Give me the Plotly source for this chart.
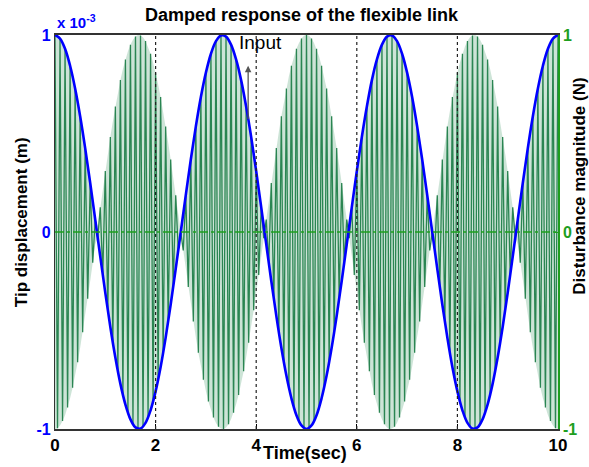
import plotly.graph_objects as go

# Time bases (s)
t_input = [round(0.1 * k, 2) for k in range(101)]
t_resp = [round(0.05 * j, 2) for j in range(201)]

# Input disturbance (N)
input_N = [1.000, 0.982, 0.930, 0.844, 0.729, 0.588, 0.426, 0.249, 0.063, -0.125,
           -0.309, -0.482, -0.637, -0.771, -0.876, -0.951, -0.992, -0.998, -0.969, -0.905,
           -0.809, -0.685, -0.536, -0.368, -0.187, 0.000, 0.187, 0.368, 0.536, 0.685,
           0.809, 0.905, 0.969, 0.998, 0.992, 0.951, 0.876, 0.771, 0.637, 0.482,
           0.309, 0.125, -0.063, -0.249, -0.426, -0.588, -0.729, -0.844, -0.930, -0.982,
           -1.000, -0.982, -0.930, -0.844, -0.729, -0.588, -0.426, -0.249, -0.063, 0.125,
           0.309, 0.482, 0.637, 0.771, 0.876, 0.951, 0.992, 0.998, 0.969, 0.905,
           0.809, 0.685, 0.536, 0.368, 0.187, 0.000, -0.187, -0.368, -0.536, -0.685,
           -0.809, -0.905, -0.969, -0.998, -0.992, -0.951, -0.876, -0.771, -0.637, -0.482,
           -0.309, -0.125, 0.063, 0.249, 0.426, 0.588, 0.729, 0.844, 0.930, 0.982,
           1.000]

# Tip displacement (x 1e-3 m), read from the green oscillation peaks
tip_disp = [1.000, -0.996, 0.982, -0.960, 0.930, -0.891, 0.844, -0.790, 0.729, -0.661,
            0.588, -0.509, 0.426, -0.339, 0.249, -0.156, 0.063, -0.031, 0.125, -0.218,
            0.309, -0.397, 0.482, -0.562, 0.637, -0.707, 0.771, -0.827, 0.876, -0.918,
            0.951, -0.976, 0.992, -1.000, 0.998, -0.988, 0.969, -0.941, 0.905, -0.861,
            0.809, -0.750, 0.685, -0.613, 0.536, -0.454, 0.368, -0.279, 0.187, -0.094,
            0.000, -0.094, 0.187, -0.279, 0.368, -0.454, 0.536, -0.613, 0.685, -0.750,
            0.809, -0.861, 0.905, -0.941, 0.969, -0.988, 0.998, -1.000, 0.992, -0.976,
            0.951, -0.918, 0.876, -0.827, 0.771, -0.707, 0.637, -0.562, 0.482, -0.397,
            0.309, -0.218, 0.125, -0.031, 0.063, -0.156, 0.249, -0.339, 0.426, -0.509,
            0.588, -0.661, 0.729, -0.790, 0.844, -0.891, 0.930, -0.960, 0.982, -0.996,
            1.000, -0.996, 0.982, -0.960, 0.930, -0.891, 0.844, -0.790, 0.729, -0.661,
            0.588, -0.509, 0.426, -0.339, 0.249, -0.156, 0.063, -0.031, 0.125, -0.218,
            0.309, -0.397, 0.482, -0.562, 0.637, -0.707, 0.771, -0.827, 0.876, -0.918,
            0.951, -0.976, 0.992, -1.000, 0.998, -0.988, 0.969, -0.941, 0.905, -0.861,
            0.809, -0.750, 0.685, -0.613, 0.536, -0.454, 0.368, -0.279, 0.187, -0.094,
            0.000, -0.094, 0.187, -0.279, 0.368, -0.454, 0.536, -0.613, 0.685, -0.750,
            0.809, -0.861, 0.905, -0.941, 0.969, -0.988, 0.998, -1.000, 0.992, -0.976,
            0.951, -0.918, 0.876, -0.827, 0.771, -0.707, 0.637, -0.562, 0.482, -0.397,
            0.309, -0.218, 0.125, -0.031, 0.063, -0.156, 0.249, -0.339, 0.426, -0.509,
            0.588, -0.661, 0.729, -0.790, 0.844, -0.891, 0.930, -0.960, 0.982, -0.996,
            1.000]

x_ticks = [0, 2, 4, 6, 8, 10]
y_ticks = [-1, 0, 1]

FONT = "Liberation Sans"
BLUE = "#0000FF"
GREEN = "#1E9E1E"
DGREEN = "#2A8552"
LGREEN = "rgba(60,150,100,0.26)"

# envelope band of the dense oscillation (light green shading seen in the reference)
env_up = [abs(v) for v in tip_disp]
env_lo = [-abs(v) for v in tip_disp]

fig = go.Figure()
fig.add_trace(go.Scatter(x=t_resp, y=env_lo, mode="lines", line=dict(width=0),
                         yaxis="y", showlegend=False, hoverinfo="skip"))
fig.add_trace(go.Scatter(x=t_resp, y=env_up, mode="lines", line=dict(width=0),
                         fill="tonexty", fillcolor=LGREEN, yaxis="y",
                         showlegend=False, hoverinfo="skip"))
fig.add_trace(go.Scatter(x=t_resp, y=tip_disp, mode="lines",
                         line=dict(color=DGREEN, width=1.3), yaxis="y",
                         showlegend=False))
fig.add_trace(go.Scatter(x=t_input, y=input_N, mode="lines",
                         line=dict(color=BLUE, width=2.6, shape="spline"),
                         yaxis="y2", showlegend=False))

shapes = []
for xv in x_ticks[1:-1]:
    shapes.append(dict(type="line", xref="x", yref="paper", x0=xv, x1=xv, y0=0, y1=1,
                       line=dict(color="#222222", width=1.2, dash="dot"), layer="above"))
shapes.append(dict(type="line", xref="paper", yref="y", x0=0, x1=1, y0=0, y1=0,
                   line=dict(color=GREEN, width=1.3, dash="dashdot"), layer="above"))
fig.update_layout(shapes=shapes)

fig.update_layout(
    width=589, height=467,
    margin=dict(l=55, r=31, t=35, b=34),
    paper_bgcolor="white", plot_bgcolor="white",
    font=dict(family=FONT, size=14, color="black"),
    xaxis=dict(range=[0, 10], tickvals=x_ticks, ticktext=[str(v) for v in x_ticks],
               showgrid=False, zeroline=False, showline=True, linecolor="#333333",
               linewidth=1.5, mirror=True, ticks="inside", ticklen=5, tickcolor="black",
               tickfont=dict(family=FONT, size=17, color="black", weight="bold")),
    yaxis=dict(range=[-1, 1], tickvals=y_ticks, ticktext=["-1", "0", "1"],
               showgrid=False, zeroline=False, showline=True, linecolor="#333333",
               linewidth=1.2, ticks="",
               tickfont=dict(family=FONT, size=16, color=BLUE, weight="bold")),
    yaxis2=dict(range=[-1, 1], tickvals=y_ticks, ticktext=["-1", "0", "1"],
                overlaying="y", side="right", showgrid=False, zeroline=False,
                showline=True, linecolor=GREEN, linewidth=1.5, ticks="inside",
                ticklen=4, tickcolor=GREEN,
                tickfont=dict(family=FONT, size=16, color=GREEN, weight="bold")),
)

ann = []
ann.append(dict(text="<b>Damped response of the flexible link</b>", xref="paper", yref="paper",
                x=0.492, y=1.05, showarrow=False, font=dict(family=FONT, size=18, color="black"),
                xanchor="center", yanchor="middle"))
ann.append(dict(text="<b>x 10<sup>-3</sup></b>", xref="paper", yref="paper",
                x=0.0, y=1.035, showarrow=False, font=dict(family=FONT, size=15, color=BLUE),
                xanchor="left", yanchor="middle"))
ann.append(dict(text="<b>Tip displacement (m)</b>", xref="paper", yref="paper",
                x=-0.0676, y=0.525, showarrow=False, textangle=-90,
                font=dict(family=FONT, size=17, color="black"), xanchor="center", yanchor="middle"))
ann.append(dict(text="<b>Disturbance magnitude (N)</b>", xref="paper", yref="paper",
                x=1.0425, y=0.616, showarrow=False, textangle=-90,
                font=dict(family=FONT, size=17, color="black"), xanchor="center", yanchor="middle"))
ann.append(dict(text="<b>Time(sec)</b>", xref="paper", yref="paper",
                x=0.498, y=-0.06, showarrow=False,
                font=dict(family=FONT, size=18, color="black"), xanchor="center", yanchor="middle"))
ann.append(dict(text="Input", xref="paper", yref="paper", x=0.4085, y=0.98, showarrow=False,
                font=dict(family=FONT, size=19, color="black"), xanchor="center", yanchor="middle"))
ann.append(dict(text="", x=3.84, y=0.844, xref="x", yref="y", showarrow=True,
                ax=0, ay=55, arrowhead=2, arrowsize=1, arrowwidth=1.3, arrowcolor="#555555"))
fig.update_layout(annotations=ann)

fig.write_html("out.html")
